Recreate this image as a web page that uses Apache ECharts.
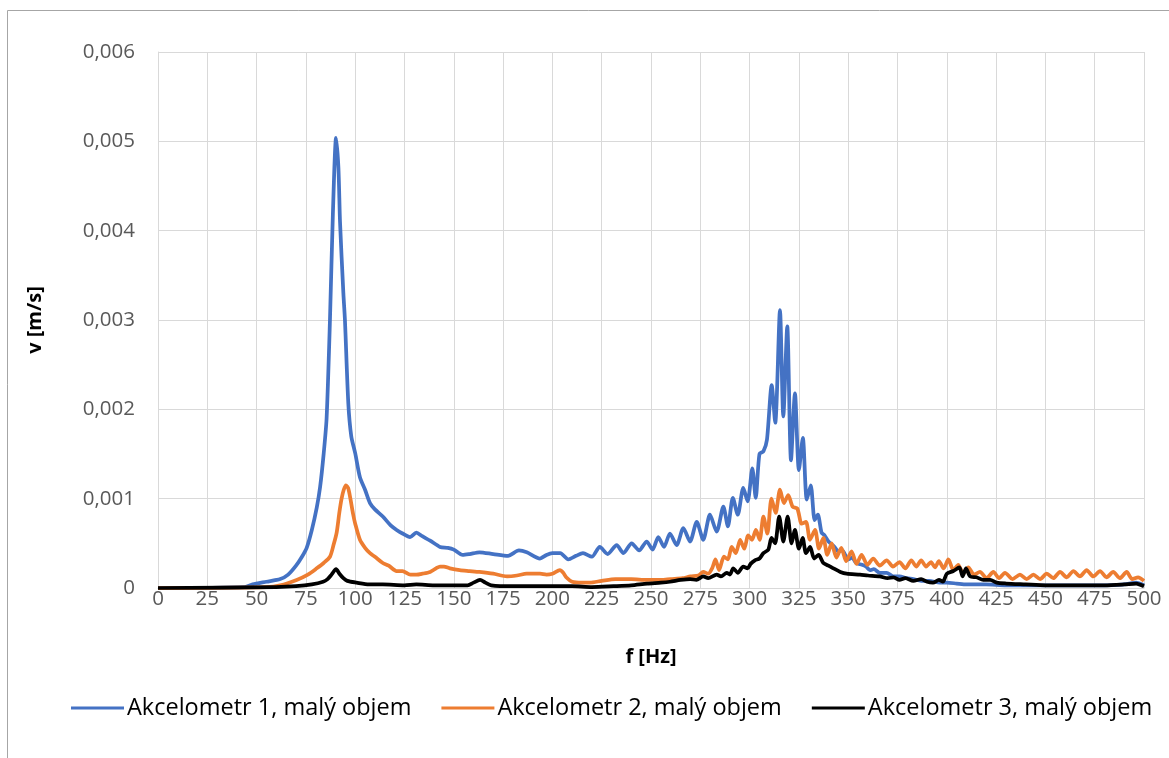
<!DOCTYPE html>
<html>
<head>
<meta charset="utf-8">
<script src="https://cdn.jsdelivr.net/npm/echarts@6/dist/echarts.min.js"></script>
<style>
html,body{margin:0;padding:0;background:#fff;}
#chart{width:1169px;height:758px;}
</style>
</head>
<body>
<div id="chart"></div>
<script>
// Series names
const seriesNames = ['Akcelometr 1, malý objem', 'Akcelometr 2, malý objem', 'Akcelometr 3, malý objem'];

// Akcelometr 1 (blue): frequency [Hz] and velocity [m/s]
const f1 = [0,44,48,55,62,66,70,73,75.4,78,80.5,82.2,84,85.5,87.2,88.7,90.3,91.5,92.3,94,94.8,96.5,98,100,102.4,105,107.5,110,114,118,121,124,127.8,131,134,138,143,147,150,154.5,158,163,170,177.5,183,187,193.7,197,200,204,208,212,215.5,220,224,228,232.6,236,240.2,244,247.8,250.8,253.7,256.6,259.6,263,266.4,269.8,273.2,276.5,279.9,283.3,286.7,289,291.5,294,296.8,299,301.4,303.1,305,307,308.8,311.2,313,315.4,317.1,319.1,321,323,325,327,329,331,333,334.6,336.5,338,340,343,345,347,350,352,354,357,359,361,363,366,369.5,372.8,376,379.7,383,387,391,396.5,400,405,410,420,430,440,450,460,470,480,490,496,500];
const v1 = [0,0.00001,0.00004,0.00007,0.0001,0.00015,0.00025,0.00035,0.00045,0.00065,0.0009,0.00113,0.0015,0.0019,0.003,0.0042,0.00504,0.0047,0.0041,0.0033,0.003,0.00207,0.0017,0.00151,0.00124,0.0011,0.00095,0.00088,0.0008,0.0007,0.00065,0.00061,0.00057,0.00062,0.00058,0.00053,0.00046,0.00045,0.00043,0.00037,0.00038,0.0004,0.00038,0.00036,0.00042,0.0004,0.00033,0.00037,0.00039,0.00039,0.00032,0.00036,0.00039,0.00035,0.00046,0.00038,0.00048,0.00039,0.0005,0.00042,0.00052,0.00043,0.00057,0.00046,0.00061,0.00048,0.00067,0.00052,0.00074,0.00054,0.00082,0.00063,0.00091,0.00069,0.00101,0.00082,0.00112,0.00097,0.00134,0.00101,0.0015,0.00153,0.00166,0.00227,0.00185,0.00311,0.00192,0.00293,0.00143,0.00218,0.00132,0.00168,0.00099,0.00115,0.00076,0.00082,0.00062,0.00059,0.00052,0.00046,0.00041,0.00042,0.00032,0.00034,0.00028,0.00026,0.00024,0.0002,0.00021,0.00017,0.00017,0.00013,0.00013,0.00011,0.0001,0.00008,0.00008,0.00006,0.00006,0.00005,0.00004,0.00004,0.00003,0.00003,0.00003,0.00003,0.00003,0.00003,0.00004,0.00006,0.00003];

// Akcelometr 2 (orange)
const f2 = [0,55,62,70.3,76,80.5,84,87.2,89,90.6,92,93.1,94.2,95.3,96.4,97.4,99,100,102.4,105,107.5,110,114,117,121,124,128,131,134,138,141,143,145,148,153,158,163,170,177,182,187,193.7,197,200,203.8,205.5,207,210,215,219,225,232,240,248,255,260,266,270,274,276.5,279,281,282.7,284.5,287,289,290.9,293,295.2,297.3,299.3,301.2,303.2,305.1,307,309,311.1,313.2,315.4,317.4,319.6,321.8,324.2,326.4,328.6,330.6,333.2,335.2,337.4,339.4,341.6,344,346.5,349,351.7,354.2,356.8,359.7,362.7,366,369.5,372.7,376,379,382,384.5,387,389.5,392,394,396,398.4,400.8,403.3,405.8,408.3,410.9,413.8,416.8,420.2,423.6,426.5,429.5,433.3,437.1,440.5,443.9,447.3,450.7,454,457.4,460.8,464.2,467.5,470.9,474.3,477.7,481,484.4,487.8,491.2,494,497,500];
const v2 = [0,0.00001,0.00003,0.00009,0.00015,0.00022,0.00028,0.00035,0.00048,0.00062,0.00085,0.001,0.0011,0.00115,0.00112,0.00102,0.00082,0.00072,0.00054,0.00045,0.00039,0.00035,0.00028,0.00025,0.00019,0.00019,0.00015,0.00015,0.00016,0.00018,0.00022,0.00024,0.00024,0.00022,0.0002,0.00019,0.00018,0.00016,0.00013,0.00014,0.00016,0.00016,0.00015,0.00016,0.0002,0.00017,0.00012,0.00007,0.00006,0.00006,0.00008,0.0001,0.0001,0.00009,0.00009,0.0001,0.00011,0.00013,0.00014,0.00018,0.00016,0.00022,0.00032,0.0002,0.00035,0.00032,0.00046,0.00039,0.00054,0.00044,0.00059,0.00054,0.00065,0.00054,0.0008,0.00061,0.001,0.00084,0.0011,0.00095,0.00104,0.00091,0.00089,0.00072,0.00074,0.00054,0.00065,0.00044,0.00056,0.00037,0.0005,0.00034,0.00045,0.0003,0.00041,0.00027,0.00037,0.00026,0.00033,0.00025,0.00031,0.00024,0.00029,0.00022,0.00031,0.00024,0.00031,0.00024,0.00029,0.00023,0.0003,0.00022,0.00032,0.0002,0.00026,0.00016,0.00023,0.00015,0.00018,0.00011,0.00018,0.00011,0.00017,0.0001,0.00015,0.0001,0.00015,0.0001,0.00016,0.00011,0.00018,0.00012,0.00019,0.00013,0.0002,0.00013,0.00019,0.00012,0.00018,0.00011,0.00018,0.0001,0.00012,0.00008];

// Akcelometr 3 (black)
const f3 = [0,60,70,78,83.7,86,88,90.3,92,94,96,100.7,107,114,125,131,140,150,157,160,163.3,166,169,180,190,200,210,220,231,240,248,255,259.6,265,269.8,273,276.5,279,283.3,285.5,288.4,290,291.7,294,296.8,299,300.5,302.7,305,307,309.5,311.1,312.9,315,317.1,319.3,321.3,323,325,326.9,328.6,330.7,332.7,335,337.4,340,342.5,346,349.2,356,360,366,370,373,376,379,383,387,390,393,396,398,400,403.3,406.4,408,409.7,411.8,415,418.5,422,425.3,430,440,450,460,470,480,490,496,500];
const v3 = [0,0.00001,0.00002,0.00004,0.00007,0.0001,0.00015,0.00021,0.00016,0.00011,0.00008,0.00006,0.00004,0.00004,0.00003,0.00004,0.00003,0.00003,0.00003,0.00006,0.00009,0.00006,0.00003,0.00002,0.00002,0.00002,0.00002,0.00001,0.00002,0.00003,0.00005,0.00006,0.00007,0.00009,0.0001,0.00009,0.00013,0.00011,0.00015,0.00013,0.00017,0.00015,0.00022,0.00017,0.00024,0.00022,0.00027,0.00031,0.00033,0.00039,0.00043,0.00056,0.0005,0.0008,0.00052,0.0008,0.0005,0.00065,0.00044,0.00056,0.00039,0.00046,0.00033,0.00037,0.00028,0.00025,0.00022,0.00018,0.00016,0.00015,0.00014,0.00013,0.00011,0.00012,0.00009,0.00011,0.00008,0.0001,0.00007,0.00006,0.00009,0.00007,0.00016,0.00019,0.00023,0.00013,0.00022,0.00013,0.00012,0.00009,0.00009,0.00006,0.00005,0.00004,0.00003,0.00003,0.00003,0.00003,0.00004,0.00005,0.00002];

// Axis definitions
const xMin = 0, xMax = 500, xStep = 25;
const yMin = 0, yMax = 0.006, yStep = 0.001;
const xName = 'f [Hz]';
const yName = 'v [m/s]';

const zip = (f, v) => f.map((x, i) => [x, v[i]]);
const colors = ['#4472C4', '#ED7D31', '#000000'];
const font = '"Open Sans", "Liberation Sans", sans-serif';

const chart = echarts.init(document.getElementById('chart'), null, {renderer: 'canvas'});
chart.setOption({
  animation: false,
  backgroundColor: '#ffffff',
  color: colors,
  graphic: [{
    type: 'rect',
    shape: {x: 7.5, y: 10.5, width: 1200, height: 800},
    style: {fill: 'none', stroke: '#a6a6a6', lineWidth: 1},
    silent: true, z: -1
  }],
  grid: {left: 158, right: 25, top: 52, bottom: 170, containLabel: false},
  legend: {
    bottom: 33,
    left: 66,
    icon: 'rect',
    itemWidth: 53,
    itemHeight: 3,
    itemGap: 30,
    textStyle: {fontFamily: font, fontSize: 23.5, color: '#000000', padding: [0, 0, 0, -2]},
    data: seriesNames
  },
  xAxis: {
    type: 'value',
    min: xMin, max: xMax, interval: xStep,
    name: xName,
    nameLocation: 'middle',
    nameGap: 59,
    nameTextStyle: {fontFamily: font, fontSize: 20, fontWeight: 'bold', color: '#000000'},
    axisLine: {show: true, lineStyle: {color: '#d9d9d9', width: 1}},
    axisTick: {show: false},
    axisLabel: {fontFamily: font, fontSize: 20.5, color: '#595959', margin: 1},
    splitLine: {show: true, lineStyle: {color: '#d9d9d9', width: 1}}
  },
  yAxis: {
    type: 'value',
    min: yMin, max: yMax, interval: yStep,
    name: yName,
    nameLocation: 'middle',
    nameGap: 113,
    nameTextStyle: {fontFamily: font, fontSize: 20, fontWeight: 'bold', color: '#000000'},
    axisLine: {show: true, lineStyle: {color: '#d9d9d9', width: 1}},
    axisTick: {show: false},
    axisLabel: {
      fontFamily: font, fontSize: 20.5, color: '#595959', margin: 23,
      formatter: v => v === 0 ? '0' : v.toFixed(3).replace('.', ',')
    },
    splitLine: {show: true, lineStyle: {color: '#d9d9d9', width: 1}}
  },
  series: [
    {name: seriesNames[0], type: 'line', data: zip(f1, v1), showSymbol: false, smooth: 0.25, lineStyle: {width: 3.75, color: colors[0], join: 'round'}, z: 2},
    {name: seriesNames[1], type: 'line', data: zip(f2, v2), showSymbol: false, smooth: 0.25, lineStyle: {width: 3.75, color: colors[1], join: 'round'}, z: 3},
    {name: seriesNames[2], type: 'line', data: zip(f3, v3), showSymbol: false, smooth: 0.25, lineStyle: {width: 3.75, color: colors[2], join: 'round'}, z: 4}
  ]
});
</script>
</body>
</html>
